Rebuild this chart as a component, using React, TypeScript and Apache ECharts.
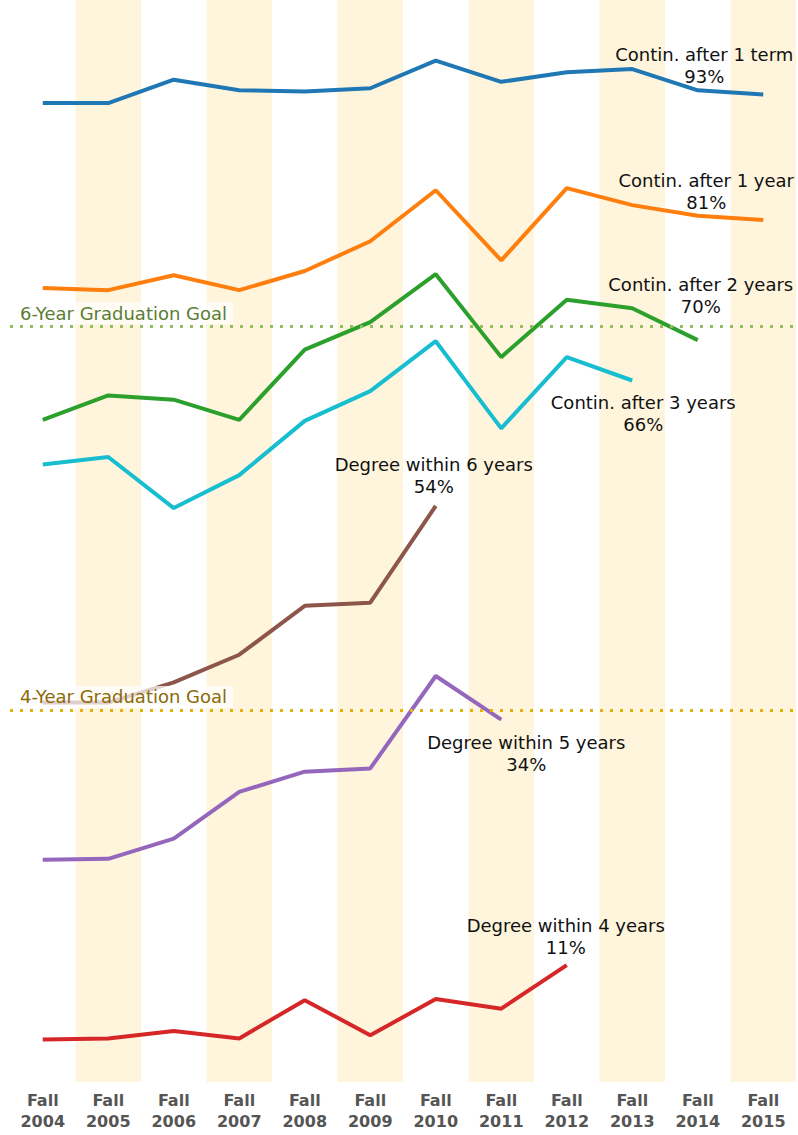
import React, { useEffect, useRef } from "react";
import * as echarts from "echarts";

const categories = ["Fall\n2004", "Fall\n2005", "Fall\n2006", "Fall\n2007", "Fall\n2008", "Fall\n2009", "Fall\n2010", "Fall\n2011", "Fall\n2012", "Fall\n2013", "Fall\n2014", "Fall\n2015"];

const contin1Term = [92.1, 92.1, 94.3, 93.3, 93.2, 93.5, 96.1, 94.1, 95.0, 95.3, 93.3, 92.9];
const contin1Year = [74.7, 74.5, 75.9, 74.5, 76.3, 79.1, 83.9, 77.3, 84.1, 82.5, 81.5, 81.1];
const contin2Years = [62.3, 64.6, 64.2, 62.3, 68.9, 71.5, 76.0, 68.2, 73.6, 72.8, 69.8];
const contin3Years = [58.1, 58.8, 54.0, 57.1, 62.2, 65.0, 69.7, 61.5, 68.2, 66.0];
const degree6Years = [35.7, 35.7, 37.6, 40.2, 44.8, 45.1, 54.2];
const degree5Years = [20.9, 21.0, 22.9, 27.3, 29.2, 29.5, 38.2, 34.1];
const degree4Years = [4.0, 4.1, 4.8, 4.1, 7.7, 4.4, 7.8, 6.9, 11.0];

const sixYearGoal = 71.1;
const fourYearGoal = 35.0;

const bandYears = [null, 1, null, 1, null, 1, null, 1, null, 1, null, 1];

const Y_MAX = 101.8;

type S = { name: string; values: number[]; color: string; pos: string; offset: number[] };

const seriesDefs: S[] = [
  { name: "Contin. after 1 term", values: contin1Term, color: "#1f77b4", pos: "top", offset: [-59, -2] },
  { name: "Contin. after 1 year", values: contin1Year, color: "#ff7f0e", pos: "top", offset: [-57, -2] },
  { name: "Contin. after 2 years", values: contin2Years, color: "#2ca02c", pos: "top", offset: [3, -18] },
  { name: "Contin. after 3 years", values: contin3Years, color: "#17becf", pos: "bottom", offset: [11, 6] },
  { name: "Degree within 6 years", values: degree6Years, color: "#8c564b", pos: "top", offset: [-2, -3] },
  { name: "Degree within 5 years", values: degree5Years, color: "#9467bd", pos: "bottom", offset: [25, 7] },
  { name: "Degree within 4 years", values: degree4Years, color: "#d62728", pos: "top", offset: [-1, -2] },
];

export default function App() {
  const ref = useRef<HTMLDivElement>(null);
  useEffect(() => {
    if (!ref.current) return;
    const chart = echarts.init(ref.current, undefined, { renderer: "svg" });
    const font = "'DejaVu Sans', Verdana, sans-serif";
    const lineSeries = seriesDefs.map((d) => ({
      type: "line",
      name: d.name,
      z: 3,
      symbol: "circle",
      symbolSize: 0,
      showSymbol: true,
      lineStyle: { color: d.color, width: 4 },
      itemStyle: { color: d.color },
      emphasis: { disabled: true },
      data: d.values.map((v, i) =>
        i === d.values.length - 1
          ? {
              value: v,
              label: {
                show: true,
                position: d.pos,
                distance: 5,
                offset: d.offset,
                formatter: () => d.name + "\n" + Math.round(v) + "%",
                color: "#111",
                fontFamily: font,
                fontSize: 18,
                lineHeight: 22,
                align: "center",
              },
            }
          : v
      ),
    }));
    const goalLabel = (text: string, color: string) => ({
      show: true,
      position: "insideStartTop",
      formatter: text,
      color,
      fontFamily: font,
      fontSize: 18,
      lineHeight: 20,
      distance: [8, 2],
      padding: [1, 6, 1, 2],
      backgroundColor: "rgba(255,255,255,0.72)",
    });
    chart.setOption({
      animation: false,
      grid: { left: 10, right: 2, top: 0, bottom: 53, containLabel: false },
      xAxis: {
        type: "category",
        data: categories,
        boundaryGap: true,
        axisLine: { show: false },
        axisTick: { show: false },
        splitLine: { show: false },
        axisLabel: {
          color: "#555",
          fontFamily: font,
          fontWeight: "bold",
          fontSize: 16,
          lineHeight: 21,
          margin: 8,
        },
      },
      yAxis: {
        type: "value",
        min: 0,
        max: Y_MAX,
        show: false,
        splitLine: { show: false },
      },
      series: [
        {
          type: "bar",
          silent: true,
          z: 1,
          barWidth: "100%",
          itemStyle: { color: "#fff5dc" },
          data: bandYears.map((b) => (b ? Y_MAX : null)),
        },
        ...lineSeries,
        {
          type: "line",
          z: 10,
          data: [],
          silent: true,
          markLine: {
            silent: true,
            symbol: "none",
            z: 10,
            data: [
              {
                yAxis: sixYearGoal,
                lineStyle: { color: "#93bd5e", width: 3, type: [3, 7] },
                label: goalLabel("6-Year Graduation Goal", "#5a7d35"),
              },
              {
                yAxis: fourYearGoal,
                lineStyle: { color: "#e3b20a", width: 3, type: [3, 7] },
                label: goalLabel("4-Year Graduation Goal", "#8a6a0a"),
              },
            ],
          },
        },
      ],
    });
    return () => chart.dispose();
  }, []);
  return <div ref={ref} style={{ position: "absolute", left: 0, top: 0, width: 798, height: 1135 }} />;
}
